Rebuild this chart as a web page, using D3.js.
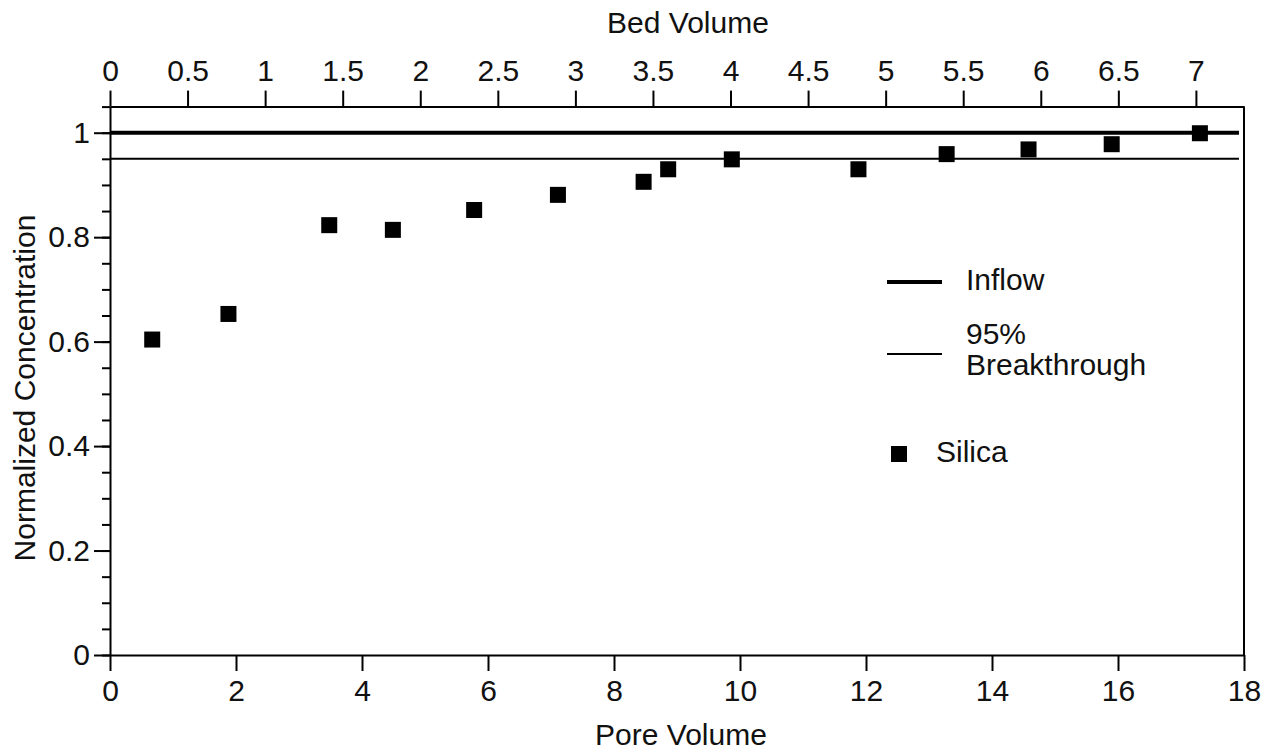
<!DOCTYPE html>
<html>
<head>
<meta charset="utf-8">
<script src="https://cdn.jsdelivr.net/npm/d3@7"></script>
<style>
  body { margin: 0; background: #fff; }
  svg { display: block; font-family: "Liberation Sans", Arial, Helvetica, sans-serif; }
  .axis path, .axis line { stroke: #000; stroke-width: 2; }
  .axis text { font-size: 30px; fill: #111; }
</style>
</head>
<body>
<svg id="chart" width="1266" height="752"></svg>
<script>
// Silica breakthrough data
const poreVolume = [0.67, 1.88, 3.48, 4.49, 5.78, 7.11, 8.47, 8.86, 9.87, 11.88, 13.28, 14.58, 15.90, 17.30];
const silica     = [0.604, 0.653, 0.823, 0.814, 0.852, 0.881, 0.906, 0.930, 0.949, 0.930, 0.959, 0.968, 0.978, 0.999];

// reference lines: names and levels
const refNames  = ["Inflow", "95%\nBreakthrough"];
const refLevels = [1.0, 0.95];

const poreTicks = [0, 2, 4, 6, 8, 10, 12, 14, 16, 18];
const bedTicks  = [0, 0.5, 1, 1.5, 2, 2.5, 3, 3.5, 4, 4.5, 5, 5.5, 6, 6.5, 7];
const concTicks = [0, 0.2, 0.4, 0.6, 0.8, 1];
const concMinor = d3.range(0, 1.0501, 0.05);

const poreMax = 18;
const bedMax = 7.31;   // bed volume at the right edge
const concMax = 1.05;

const svg = d3.select("#chart");

const plotLeft = 110, plotRight = 1244, plotTop = 106.6, plotBottom = 655;

const x = d3.scaleLinear().domain([0, poreMax]).range([plotLeft, plotRight]);
const xBed = d3.scaleLinear().domain([0, bedMax]).range([plotLeft, plotRight]);
const y = d3.scaleLinear().domain([0, concMax]).range([plotBottom, plotTop]);

const fmt = d3.format("~g");

// bottom axis
svg.append("g")
    .attr("class", "axis")
    .attr("transform", `translate(0,${plotBottom})`)
    .call(d3.axisBottom(x).tickValues(poreTicks).tickFormat(fmt).tickSize(16).tickSizeOuter(0).tickPadding(9));

// top axis
svg.append("g")
    .attr("class", "axis")
    .attr("transform", `translate(0,${plotTop})`)
    .call(d3.axisTop(xBed).tickValues(bedTicks).tickFormat(fmt).tickSize(16).tickSizeOuter(0).tickPadding(10));

// left axis, minor ticks first
svg.append("g")
    .attr("class", "axis")
    .attr("transform", `translate(${plotLeft},0)`)
    .call(d3.axisLeft(y).tickValues(concMinor).tickFormat("").tickSize(8).tickSizeOuter(0))
    .select(".domain").remove();

svg.append("g")
    .attr("class", "axis")
    .attr("transform", `translate(${plotLeft},0)`)
    .call(d3.axisLeft(y).tickValues(concTicks).tickFormat(fmt).tickSize(16).tickSizeOuter(0).tickPadding(4));

// right frame
svg.append("line")
    .attr("x1", plotRight).attr("x2", plotRight)
    .attr("y1", plotTop).attr("y2", plotBottom)
    .attr("stroke", "#000").attr("stroke-width", 2);

// reference lines
const refWidths = [4, 2];
svg.append("g")
    .selectAll("line")
    .data(refLevels)
    .join("line")
    .attr("x1", x(0))
    .attr("x2", x(17.92))
    .attr("y1", d => y(d))
    .attr("y2", d => y(d))
    .attr("stroke", "#000")
    .attr("stroke-width", (d, i) => refWidths[i]);

// silica points
const size = 16;
svg.append("g")
    .selectAll("rect")
    .data(poreVolume.map((p, i) => [p, silica[i]]))
    .join("rect")
    .attr("x", d => x(d[0]) - size / 2)
    .attr("y", d => y(d[1]) - size / 2)
    .attr("width", size)
    .attr("height", size)
    .attr("fill", "#000");

// axis titles
svg.append("text")
    .attr("x", 688).attr("y", 33)
    .attr("text-anchor", "middle")
    .attr("font-size", 30).attr("fill", "#111")
    .text("Bed Volume");

svg.append("text")
    .attr("x", 681).attr("y", 745)
    .attr("text-anchor", "middle")
    .attr("font-size", 30).attr("fill", "#111")
    .text("Pore Volume");

svg.append("text")
    .attr("transform", "translate(35,388) rotate(-90)")
    .attr("text-anchor", "middle")
    .attr("font-size", 30).attr("fill", "#111")
    .text("Normalized Concentration");

// legend
const legend = svg.append("g").attr("font-size", 30).attr("fill", "#111");
const legY = [282, 354];
refNames.forEach((name, i) => {
    legend.append("line")
        .attr("x1", 887).attr("x2", 942)
        .attr("y1", legY[i]).attr("y2", legY[i])
        .attr("stroke", "#000").attr("stroke-width", refWidths[i]);
    const lines = name.split("\n");
    // one text per line so the two-line label keeps its tight spacing
    lines.forEach((s, j) => {
        legend.append("text")
            .attr("x", 966)
            .attr("y", lines.length === 1 ? legY[i] + 8 : 344 + j * 31)
            .text(s);
    });
});
legend.append("rect")
    .attr("x", 891).attr("y", 446)
    .attr("width", size).attr("height", size)
    .attr("fill", "#000");
legend.append("text")
    .attr("x", 936).attr("y", 462)
    .text("Silica");
</script>
</body>
</html>
